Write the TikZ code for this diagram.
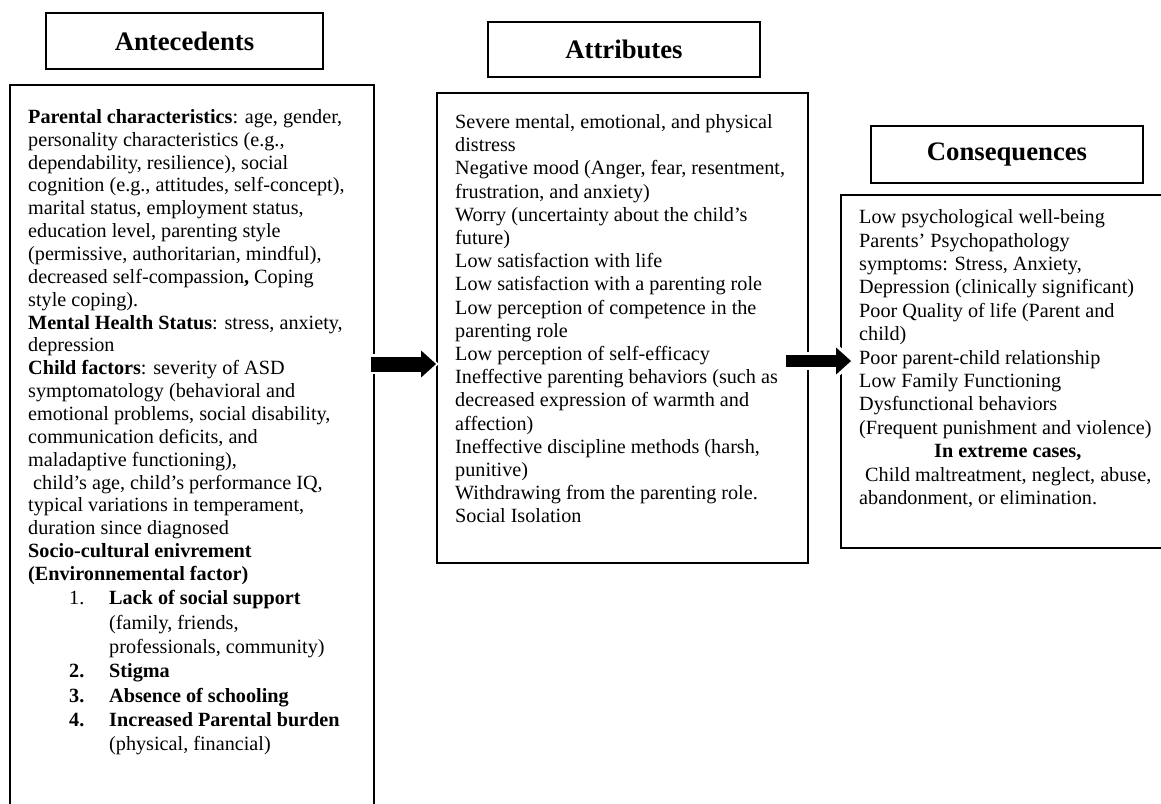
\documentclass[tikz,border=0pt]{standalone}
\usepackage{fontspec}
\setmainfont{Liberation Serif}
\usetikzlibrary{arrows.meta}
\begin{document}
\begin{tikzpicture}[x=1pt,y=-1pt,
  framebox/.style={draw=black, line width=1.8pt, inner sep=0pt},
  titlebox/.style={framebox, font=\fontsize{26.7}{30}\selectfont\bfseries},
  bodytext/.style={anchor=north west, inner sep=0pt, align=left, font=\fontsize{20.2}{#1}\selectfont},
  bigarrow/.style={line width=#1, -{Triangle[length=15pt,width=26pt]}},
  backarrow/.style={white, line width=#1, -{Triangle[length=18pt,width=31pt]}}
]
\useasboundingbox (0,0) rectangle (1161,803);
\clip (0,0) rectangle (1161,803);
\fill[white] (0,0) rectangle (1161,803);

% title boxes
\node[titlebox, minimum width=277pt, minimum height=56pt] (tante) at (184.5,41) {Antecedents};
\node[titlebox, minimum width=272pt, minimum height=55pt] (tattr) at (624,49.5) {Attributes};
\node[titlebox, minimum width=272pt, minimum height=57pt] (tcons) at (1007,154.5) {Consequences};

% content boxes
\node[framebox, minimum width=364pt, minimum height=745pt] (ante) at (192,457.5) {};
\node[framebox, minimum width=371pt, minimum height=470pt] (attr) at (622.5,328) {};
\node[framebox, minimum width=334pt, minimum height=353pt] (cons) at (1008,371.5) {};

% texts
\node[bodytext=22.85] (antetext) at (28,109.2) {%
\textbf{Parental characteristics}: age, gender,\\
personality characteristics (e.g.,\\
dependability, resilience), social\\
cognition (e.g., attitudes, self-concept),\\
marital status, employment status,\\
education level, parenting style\\
(permissive, authoritarian, mindful),\\
decreased self-compassion\textbf{,} Coping\\
style coping).\\
\textbf{Mental Health Status}: stress, anxiety,\\
depression\\
\textbf{Child factors}: severity of ASD\\
symptomatology (behavioral and\\
emotional problems, social disability,\\
communication deficits, and\\
maladaptive functioning),\\
\hspace*{5pt}child’s age, child’s performance IQ,\\
typical variations in temperament,\\
duration since diagnosed\\
\textbf{Socio-cultural enivrement}\\
\textbf{(Environnemental factor)}\\[1.5pt]
\hspace*{41pt}\makebox[40pt][l]{1.}\textbf{Lack of social support}\\[1.5pt]
\hspace*{81pt}(family, friends,\\[1.5pt]
\hspace*{81pt}professionals, community)\\[1.5pt]
\hspace*{41pt}\makebox[40pt][l]{\textbf{2.}}\textbf{Stigma}\\[1.5pt]
\hspace*{41pt}\makebox[40pt][l]{\textbf{3.}}\textbf{Absence of schooling}\\[1.5pt]
\hspace*{41pt}\makebox[40pt][l]{\textbf{4.}}\textbf{Increased Parental burden}\\[1.5pt]
\hspace*{81pt}(physical, financial)};

\node[bodytext=23.2] (attrtext) at (455,114.2) {%
Severe mental, emotional, and physical\\
distress\\
Negative mood (Anger, fear, resentment,\\
frustration, and anxiety)\\
Worry (uncertainty about the child’s\\
future)\\
Low satisfaction with life\\
Low satisfaction with a parenting role\\
Low perception of competence in the\\
parenting role\\
Low perception of self-efficacy\\
Ineffective parenting behaviors (such as\\
decreased expression of warmth and\\
affection)\\
Ineffective discipline methods (harsh,\\
punitive)\\
Withdrawing from the parenting role.\\
Social Isolation};

\node[bodytext=23.4] (constext) at (859,209.5) {%
Low psychological well-being\\
Parents’ Psychopathology\\
symptoms: Stress, Anxiety,\\
Depression (clinically significant)\\
Poor Quality of life (Parent and\\
child)\\
Poor parent-child relationship\\
Low Family Functioning\\
Dysfunctional behaviors\\
(Frequent punishment and violence)\\
\hspace*{75pt}\textbf{In extreme cases,}\\
\hspace*{6pt}Child maltreatment, neglect, abuse,\\
abandonment, or elimination.};

% arrows
\coordinate (a1y) at (0,364);
\coordinate (a2y) at (0,361);
\path (ante.east |- a1y) ++(-4,0) coordinate (a1s);
\path (attr.west |- a1y) coordinate (a1e);
\path (attr.east |- a2y) ++(-23,0) coordinate (a2s);
\path (cons.west |- a2y) ++(11,0) coordinate (a2e);

\draw[backarrow=20pt] (a1s) -- ++(68,0);
\draw[backarrow=18pt] (a2s) -- ++(70,0);
\draw[bigarrow=15pt] (a1s) -- (a1e);
\draw[bigarrow=12.5pt] (a2s) -- (a2e);
\end{tikzpicture}
\end{document}
